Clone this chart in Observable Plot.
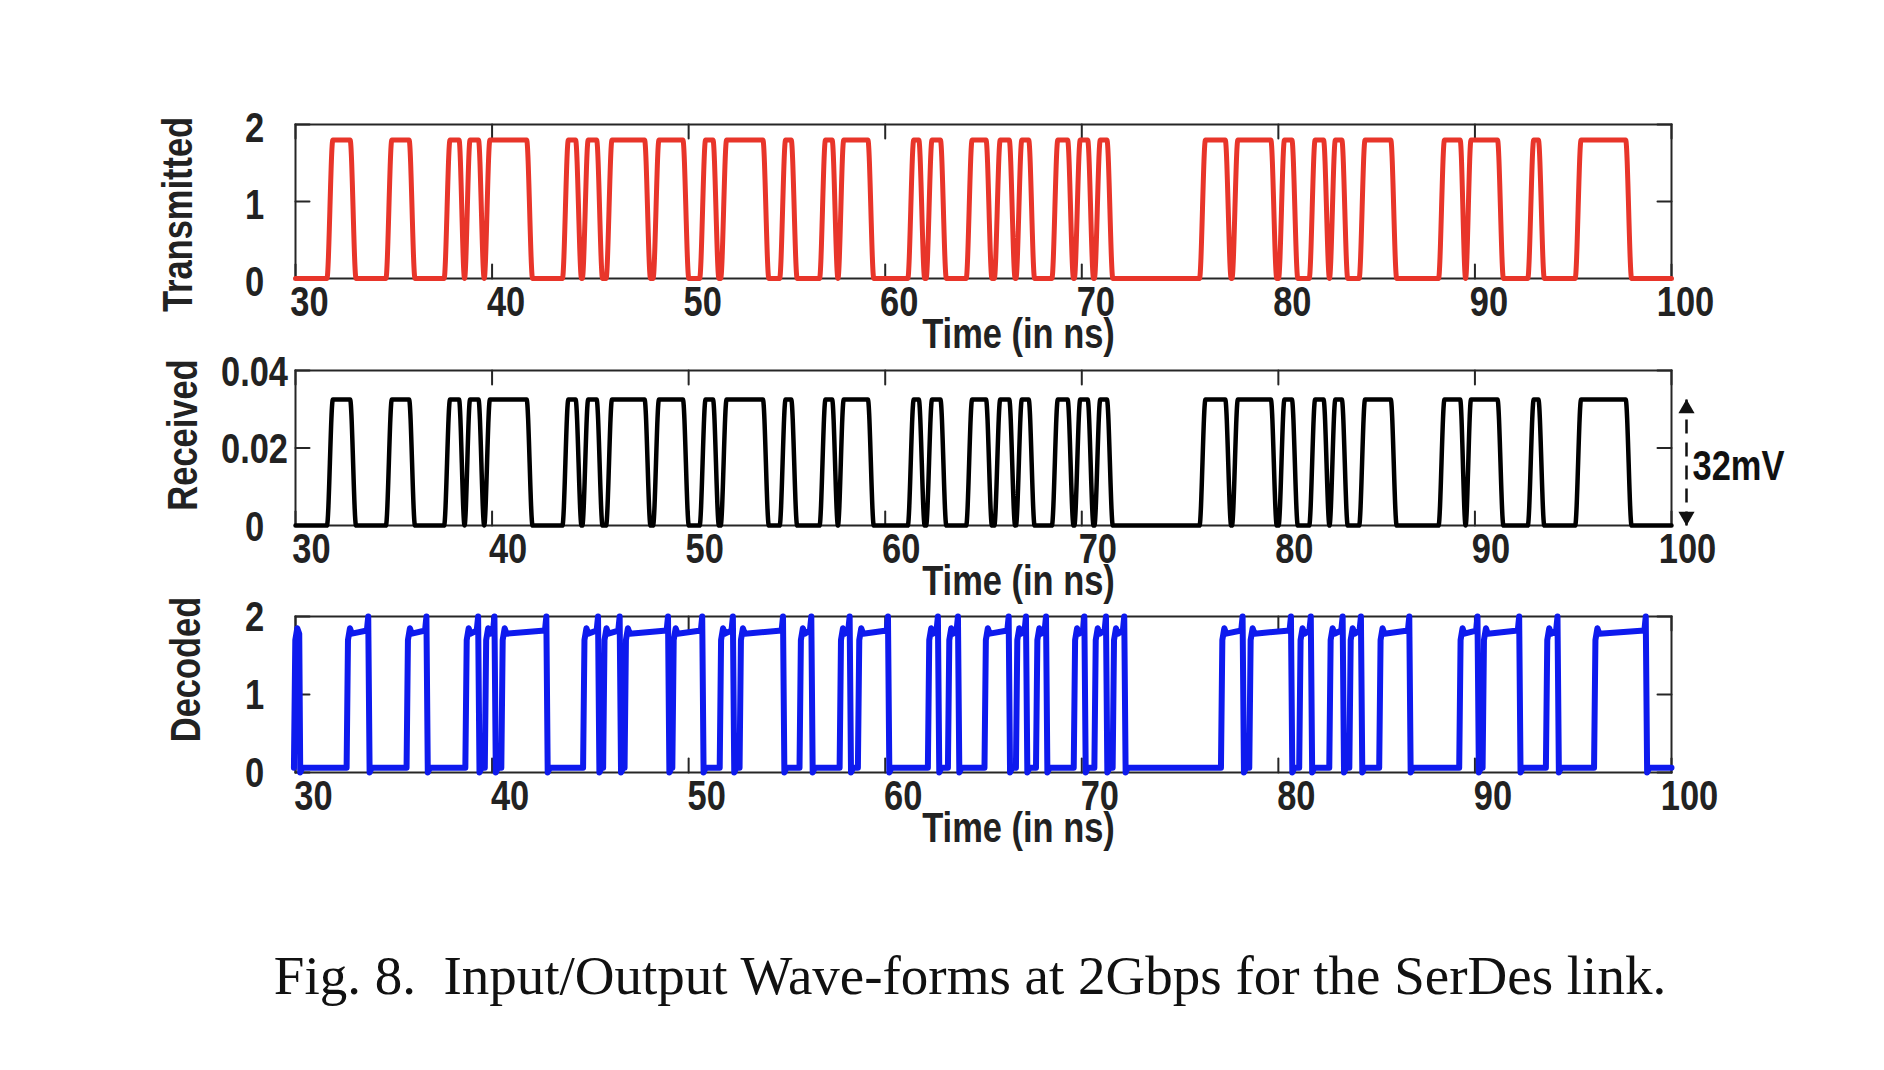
<!DOCTYPE html>
<html>
<head>
<meta charset="utf-8">
<script src="https://cdn.jsdelivr.net/npm/d3@7"></script>
<script src="https://cdn.jsdelivr.net/npm/@observablehq/plot@0.6"></script>
<style>
  html, body { margin: 0; padding: 0; background: #fff; }
  #page { position: relative; width: 1884px; height: 1070px; overflow: hidden; background: #fff; }
  #caption { position: absolute; left: 970px; top: 948px; transform: translateX(-50%);
    font-family: "Liberation Serif", "Times New Roman", serif; font-size: 55px; white-space: pre; color: #111; line-height: 1; }
</style>
</head>
<body>
<div id="page"><div id="caption"></div></div>
<script>
// ---------------- data ----------------
const xDomain = [30, 100];
const xTicks = [30, 40, 50, 60, 70, 80, 90, 100];
const xLabel = "Time (in ns)";

const yLabels = ["Transmitted", "Received", "Decoded"];
const txTicks = [0, 1, 2];
const rxTicks = [0, 0.02, 0.04];
const decTicks = [0, 1, 2];

// transmitted bit pulses: mid-level rise / fall times (ns)
const txRise = [31.75, 34.75, 37.71, 38.73, 39.74, 43.73, 44.74, 45.95, 48.34, 50.71, 51.78, 54.78, 56.81, 57.74,
  61.30, 62.23, 64.27, 65.70, 66.80, 68.63, 69.77, 70.79, 76.14, 77.79, 80.16, 81.72, 82.75, 84.26, 88.30, 89.65, 92.84, 95.25];
const txFall = [32.93, 35.93, 38.47, 39.46, 41.91, 44.40, 45.47, 47.91, 49.86, 51.39, 53.93, 55.37, 57.45, 59.27,
  61.86, 62.96, 65.28, 66.46, 67.45, 69.43, 70.45, 71.43, 77.45, 79.77, 80.84, 82.45, 83.38, 85.87, 89.40, 91.30, 93.38, 97.82];
const txHigh = 1.8, txLow = 0;

// received signal: same bit pattern, 32 mV swing
const rxHigh = 0.0325, rxLow = 0;
const annotText = "32mV";

// decoded output pulses (rise / fall times, ns)
const decRise = [29.95, 32.63, 35.68, 38.67, 39.66, 40.50, 44.66, 45.68, 46.77, 49.20, 51.61, 52.62, 55.67, 57.71, 58.64,
  62.20, 63.22, 65.08, 66.68, 67.70, 69.62, 70.67, 71.60, 77.11, 78.55, 81.09, 82.62, 83.64, 85.16, 89.23, 90.42, 93.64, 96.09];
const decFall = [30.20, 33.73, 36.69, 39.32, 40.15, 42.79, 45.42, 46.52, 48.98, 50.72, 52.28, 54.83, 56.27, 58.22, 60.17,
  62.71, 63.73, 66.31, 67.19, 68.21, 70.16, 71.26, 72.19, 78.21, 80.67, 81.68, 83.30, 84.23, 86.69, 90.16, 92.28, 94.23, 98.72];
const decLow = 0.06, decPlateau = 1.8, decSpike = 2.0;

const caption = "Fig. 8.  Input/Output Wave-forms at 2Gbps for the SerDes link.";

// ---------------- waveform builders (vertices from the edge times) ----------------
function buildWave(rises, falls, lo, hi, edge) {
  const pts = [{t: xDomain[0], v: lo}];
  const h = edge / 2;
  rises.forEach((r, i) => {
    const f = falls[i];
    const last = pts[pts.length - 1];
    if (last.t > r - h) { // narrow gap: single valley point
      const m = (last.t + (r - h)) / 2;
      pts.pop();
      pts.push({t: m, v: lo});
    } else {
      pts.push({t: r - h, v: lo});
    }
    pts.push({t: r + h, v: hi});
    pts.push({t: f - h, v: hi});
    pts.push({t: f + h, v: lo});
  });
  pts.push({t: xDomain[1], v: lo});
  return pts;
}
function buildDecoded(rises, falls, lo, plat, spike) {
  const pts = [];
  if (rises[0] > xDomain[0]) pts.push({t: xDomain[0], v: lo});
  rises.forEach((r, i) => {
    const f = falls[i];
    const cand = [
      {t: r - 0.03, v: lo},
      {t: r + 0.04, v: plat - 0.1},
      {t: r + 0.14, v: plat + 0.05},
      {t: r + 0.24, v: plat - 0.02},
      {t: f - 0.1, v: plat + 0.02},
      {t: f - 0.03, v: spike},
      {t: f + 0.04, v: 0},
      {t: f + 0.15, v: lo}
    ];
    for (const p of cand) {
      if (!pts.length || p.t > pts[pts.length - 1].t + 0.005) pts.push(p);
    }
  });
  pts.push({t: xDomain[1], v: lo});
  return pts;
}

const tx = buildWave(txRise, txFall, txLow, txHigh, 0.3);
const rx = buildWave(txRise, txFall, rxLow, rxHigh, 0.3);
const dec = buildDecoded(decRise, decFall, decLow, decPlateau, decSpike);

// ---------------- drawing ----------------
const W = 1884, boxLeft = 295, boxRight = 1671;
const FONT = '"Liberation Sans", Arial, Helvetica, sans-serif';
const CONDENSE = 0.82;
const frameColor = "#262626";
const textColor = "#222";
const tickShape = {draw(ctx, l) { ctx.moveTo(0, 0); ctx.lineTo(0, -l); }};
const fmt = d => String(d);

function condense(svg) {
  svg.querySelectorAll("text").forEach(el => {
    const len = el.getComputedTextLength();
    if (len > 0) {
      el.setAttribute("textLength", (len * CONDENSE).toFixed(1));
      el.setAttribute("lengthAdjust", "spacingAndGlyphs");
    }
  });
}

function panel({top, bottom, data, yDomain, yTicks, color, sw, curve, label, labelDx, labelDy, xDx, yDy, extra = []}) {
  const mt = 40, mb = 100;
  const h = mt + (bottom - top) + mb;
  const tk = {shape: tickShape, length: 14, anchor: "start", stroke: frameColor, strokeWidth: 2};
  const svg = Plot.plot({
    width: W, height: h,
    marginLeft: boxLeft, marginRight: W - boxRight, marginTop: mt, marginBottom: mb,
    x: {domain: xDomain},
    y: {domain: yDomain},
    style: {fontFamily: FONT, background: "transparent", color: textColor, overflow: "visible"},
    marks: [
      Plot.frame({stroke: frameColor, strokeWidth: 2}),
      Plot.vector(xTicks, {...tk, x: d => d, y: yDomain[0], rotate: 0}),
      Plot.vector(xTicks, {...tk, x: d => d, y: yDomain[1], rotate: 180}),
      Plot.vector(yTicks, {...tk, x: xDomain[0], y: d => d, rotate: 90}),
      Plot.vector(yTicks, {...tk, x: xDomain[1], y: d => d, rotate: -90}),
      Plot.axisX({ticks: xTicks, tickFormat: fmt, tickSize: 0, tickPadding: 8, fontSize: 42, fontWeight: "bold", label: null, dx: xDx, fill: textColor}),
      Plot.axisY({ticks: yTicks, tickFormat: fmt, tickSize: 0, tickPadding: 41, textAnchor: "middle", fontSize: 42, fontWeight: "bold", label: null, dy: yDy, fill: textColor}),
      Plot.text([xLabel], {frameAnchor: "bottom", text: d => d, dx: 35, dy: 56, lineAnchor: "middle", fontSize: 42, fontWeight: "bold", fill: textColor}),
      Plot.text([label], {frameAnchor: "left", text: d => d, rotate: -90, textAnchor: "middle", lineAnchor: "middle", dx: labelDx, dy: labelDy, fontSize: 42, fontWeight: "bold", fill: textColor}),
      Plot.line(data, {x: "t", y: "v", stroke: color, strokeWidth: sw, curve, strokeLinejoin: "round"}),
      ...extra
    ]
  });
  svg.style.position = "absolute";
  svg.style.left = "0px";
  svg.style.top = (top - mt) + "px";
  document.getElementById("page").appendChild(svg);
  condense(svg);
}

panel({top: 124, bottom: 278, data: tx, yDomain: [0, 2], yTicks: txTicks, color: "#e8352a", sw: 5,
  curve: "monotone-x", label: yLabels[0], labelDx: -117, labelDy: 13, xDx: 14, yDy: 4});

const annot = [{x: xDomain[1], lo: rxLow, hi: rxHigh}];
panel({top: 370, bottom: 525, data: rx, yDomain: [0, 0.04], yTicks: rxTicks, color: "#000", sw: 4.5,
  curve: "monotone-x", label: yLabels[1], labelDx: -112, labelDy: -13, xDx: 16, yDy: 2,
  extra: [
    Plot.link(annot, {x1: "x", x2: "x", y1: "lo", y2: "hi", dx: 15, stroke: "#111", strokeWidth: 2.5, strokeDasharray: "14,9"}),
    Plot.dot(annot, {x: "x", y: "hi", dx: 15, dy: 9, symbol: "triangle", r: 6, fill: "#111", stroke: null}),
    Plot.dot(annot, {x: "x", y: "lo", dx: 15, dy: -9, symbol: "triangle", rotate: 180, r: 6, fill: "#111", stroke: null}),
    Plot.text(annot, {x: "x", y: d => (d.lo + d.hi) / 2, text: () => annotText, dx: 21, dy: 4, textAnchor: "start", fontSize: 42, fontWeight: "bold", fill: "#111"})
  ]});

panel({top: 616, bottom: 772, data: dec, yDomain: [0, 2], yTicks: decTicks, color: "#0e1aee", sw: 6,
  curve: "linear", label: yLabels[2], labelDx: -109, labelDy: -25, xDx: 18, yDy: 1});

document.getElementById("caption").textContent = caption;
</script>
</body>
</html>
